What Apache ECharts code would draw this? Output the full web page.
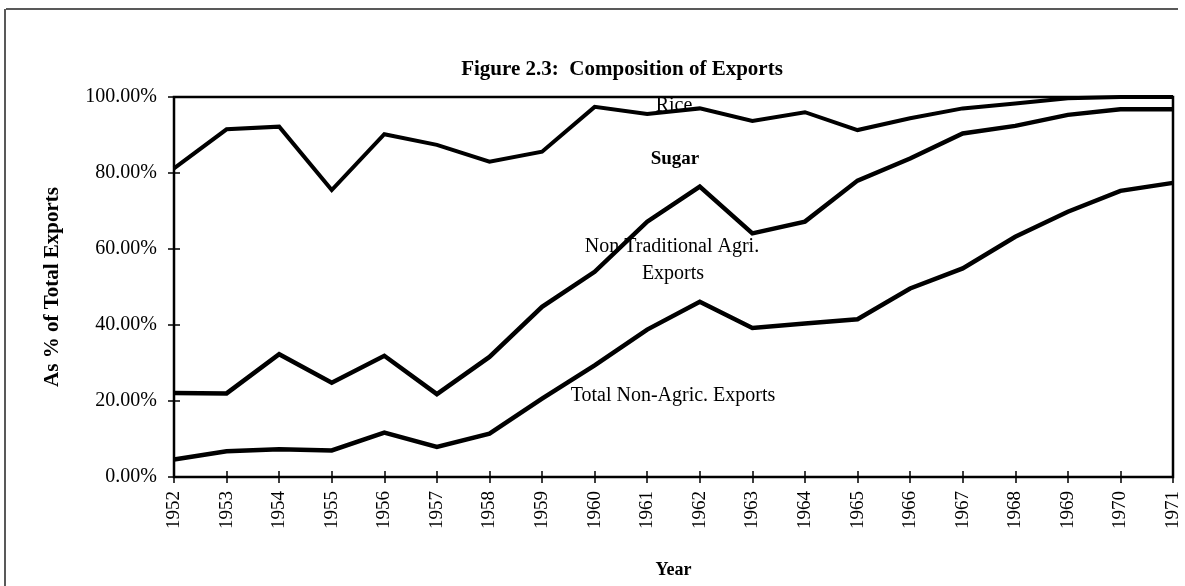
<!DOCTYPE html>
<html>
<head>
<meta charset="utf-8">
<script src="https://cdn.jsdelivr.net/npm/echarts@6/dist/echarts.min.js"></script>
<style>
  html, body { margin: 0; padding: 0; background: #fff; }
  #main { width: 1185px; height: 586px; }
</style>
</head>
<body>
<div id="main"></div>
<script>
// years on the x axis
var years = ['1952', '1953', '1954', '1955', '1956', '1957', '1958', '1959', '1960', '1961',
  '1962', '1963', '1964', '1965', '1966', '1967', '1968', '1969', '1970', '1971'];

// cumulative shares (% of total exports)
var nonAgricTop = [4.6, 6.8, 7.3, 7.0, 11.7, 7.9, 11.4, 20.6, 29.4, 38.8,
  46.1, 39.2, 40.4, 41.5, 49.6, 54.9, 63.2, 69.8, 75.3, 77.4];
var nonTradTop = [22.1, 22.0, 32.3, 24.8, 31.9, 21.8, 31.6, 44.8, 54.0, 67.2,
  76.4, 64.1, 67.2, 78.0, 83.8, 90.4, 92.4, 95.3, 96.8, 96.8];
var sugarTop = [81.2, 91.5, 92.2, 75.5, 90.2, 87.4, 83.0, 85.6, 97.4, 95.5,
  97.0, 93.7, 96.0, 91.3, 94.4, 97.0, 98.3, 99.7, 100, 100];

var yTicks = [0, 20, 40, 60, 80, 100];

var serif = '"Liberation Serif", "Times New Roman", serif';

var chart = echarts.init(document.getElementById('main'));

function lineSeries(name, data, width) {
  return {
    name: name,
    type: 'line',
    data: data,
    symbol: 'none',
    silent: true,
    lineStyle: { color: '#000', width: width, join: 'miter' },
    z: 3
  };
}

function label(text, x, y, bold) {
  return {
    type: 'text', x: x, y: y, z: 10,
    style: {
      text: text,
      font: (bold ? 'bold 19px ' : '20px ') + serif,
      fill: '#000',
      textAlign: 'center',
      textVerticalAlign: 'middle'
    }
  };
}

var option = {
  backgroundColor: '#fff',
  animation: false,
  title: {
    text: 'Figure 2.3:  Composition of Exports',
    left: 617,
    textAlign: 'center',
    top: 54,
    textStyle: { fontFamily: serif, fontWeight: 'bold', fontSize: 21, color: '#000' }
  },
  grid: {
    left: 174,
    right: 12,
    top: 97,
    bottom: 109,
    show: true,
    borderColor: '#000',
    borderWidth: 2.5,
    backgroundColor: 'transparent'
  },
  xAxis: [
    {
      type: 'category',
      data: years,
      boundaryGap: false,
      position: 'bottom',
      name: 'Year',
      nameLocation: 'middle',
      nameGap: 84,
      nameTextStyle: { fontFamily: serif, fontWeight: 'bold', fontSize: 18, color: '#000' },
      axisLine: { show: true, lineStyle: { color: '#000', width: 2 } },
      axisTick: { show: true, inside: false, length: 6, lineStyle: { color: '#000', width: 1.5 } },
      axisLabel: {
        rotate: 90,
        margin: 14,
        fontFamily: serif,
        fontSize: 19,
        color: '#000',
        interval: 0
      },
      splitLine: { show: false }
    },
    {
      type: 'category',
      data: years,
      boundaryGap: false,
      position: 'bottom',
      axisLine: { show: false },
      axisTick: { show: true, inside: true, length: 6, lineStyle: { color: '#000', width: 1.5 } },
      axisLabel: { show: false },
      splitLine: { show: false }
    }
  ],
  yAxis: [
    {
      type: 'value',
      min: 0,
      max: 100,
      interval: 20,
      name: 'As % of Total Exports',
      nameLocation: 'middle',
      nameGap: 111,
      nameTextStyle: { fontFamily: serif, fontWeight: 'bold', fontSize: 21, color: '#000' },
      axisLine: { show: true, lineStyle: { color: '#000', width: 1.5 } },
      axisTick: { show: true, inside: false, length: 6, lineStyle: { color: '#000', width: 1.5 } },
      axisLabel: {
        margin: 17,
        fontFamily: serif,
        fontSize: 20,
        color: '#000',
        formatter: function (v) { return yTicks.indexOf(v) >= 0 ? v.toFixed(2) + '%' : ''; }
      },
      splitLine: { show: false }
    },
    {
      type: 'value',
      min: 0,
      max: 100,
      interval: 20,
      position: 'left',
      axisLine: { show: false },
      axisTick: { show: true, inside: true, length: 6, lineStyle: { color: '#000', width: 1.5 } },
      axisLabel: { show: false },
      splitLine: { show: false }
    }
  ],
  series: [
    lineSeries('Total Non-Agric. Exports', nonAgricTop, 4.5),
    lineSeries('Non Traditional Agri. Exports', nonTradTop, 4.5),
    lineSeries('Sugar', sugarTop, 4)
  ],
  graphic: [
    // outer frame (top and left edges visible in the scan)
    { type: 'line', shape: { x1: 6, y1: 9, x2: 1178, y2: 9 }, style: { stroke: '#222', lineWidth: 1.5 } },
    { type: 'line', shape: { x1: 5, y1: 9, x2: 5, y2: 586 }, style: { stroke: '#222', lineWidth: 1.5 } },
    // area labels
    label('Rice', 674, 106, false),
    label('Sugar', 675, 159, true),
    label('Non Traditional Agri.', 672, 247, false),
    label('Exports', 673, 274, false),
    label('Total Non-Agric. Exports', 673, 396, false)
  ]
};

chart.setOption(option);
</script>
</body>
</html>
